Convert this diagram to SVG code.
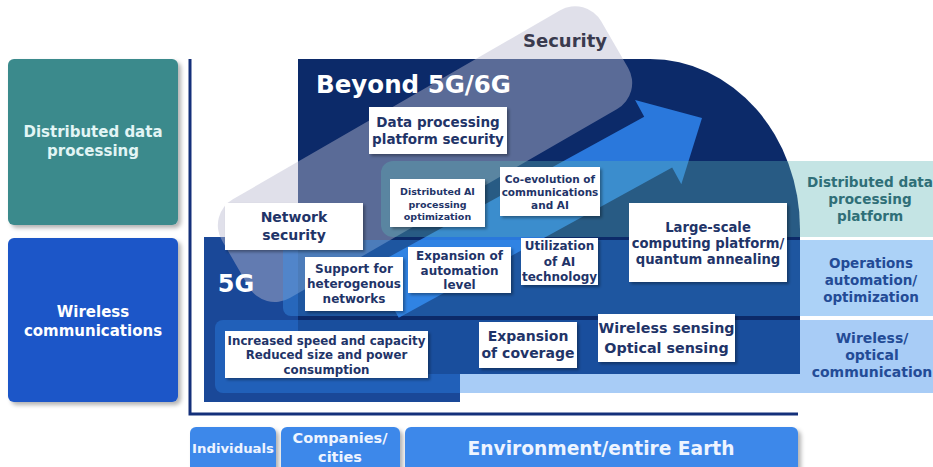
<svg xmlns="http://www.w3.org/2000/svg" width="933" height="467" viewBox="0 0 933 467">
<defs>
<filter id="sh" x="-10%" y="-10%" width="130%" height="130%"><feDropShadow dx="2" dy="2" stdDeviation="1.5" flood-color="#000" flood-opacity="0.35"/></filter>
<filter id="sh2" x="-10%" y="-10%" width="130%" height="130%"><feDropShadow dx="3" dy="3" stdDeviation="2" flood-color="#000" flood-opacity="0.3"/></filter>
<style>
text{font-family:"DejaVu Sans",Verdana,sans-serif;font-weight:bold;text-anchor:middle}
.wb{fill:#ffffff;filter:url(#sh)}
.bt{fill:#1f3468}
.wt{fill:#ffffff}
.side{filter:url(#sh2)}
</style>
</defs>
<g id="background-layers">
<rect id="tier-5g" x="204" y="237" width="256" height="165" fill="#1a4898"/>
<path id="tier-beyond" d="M298,59 H650 A150,170 0 0 1 800,229 V374 H298 Z" fill="#0c2a69"/>
</g>
<g id="connectors">
<path id="evolution-arrow" transform="translate(702,118) rotate(-28.8)" d="M0,0 L-50,-48 L-50,-29 L-362,-29 L-362,29 L-50,29 L-50,48 Z" fill="#2a78dc"/>
<path id="axes" d="M190,59 V414 H798" fill="none" stroke="#14307a" stroke-width="3"/>
</g>
<g id="security-band">
<rect x="72" y="289" width="438" height="114" rx="30" transform="rotate(-30)" fill="#babad0" fill-opacity="0.45"/>
</g>
<g id="bands">
<rect id="band-data" x="381" y="161" width="600" height="76" rx="12" fill="#5bb4b4" fill-opacity="0.36"/>
<rect id="band-ops" x="283" y="240" width="700" height="76" rx="8" fill="#3a94eb" fill-opacity="0.42"/>
<rect id="band-wireless" x="215" y="320" width="760" height="73" rx="8" fill="#2c82e8" fill-opacity="0.41"/>
</g>
<g id="labels">
<text x="413.5" y="93" class="wt" font-size="24" textLength="195" lengthAdjust="spacingAndGlyphs">Beyond 5G/6G</text>
<text x="236" y="292" class="wt" font-size="24">5G</text>
<text x="565" y="47" fill="#3a3a4e" font-size="18">Security</text>
</g>
<g id="node-data-security">
<rect class="wb" x="369" y="107" width="138" height="47"/>
<text class="bt" font-size="13.5" x="438" y="127">Data processing</text>
<text class="bt" font-size="13.5" x="438" y="144">platform security</text>
</g>
<g id="node-network-security">
<rect class="wb" x="225" y="203" width="138" height="47"/>
<text class="bt" font-size="14" x="294" y="222">Network</text>
<text class="bt" font-size="14" x="294" y="240">security</text>
</g>
<g id="node-distributed-ai">
<rect class="wb" x="390" y="179" width="95" height="48"/>
<text class="bt" font-size="9.5" x="437.5" y="195">Distributed AI</text>
<text class="bt" font-size="9.5" x="437.5" y="208">processing</text>
<text class="bt" font-size="9.5" x="437.5" y="220">optimization</text>
</g>
<g id="node-coevolution">
<rect class="wb" x="500" y="167" width="100" height="49"/>
<text class="bt" font-size="10.5" x="550" y="183">Co-evolution of</text>
<text class="bt" font-size="10.5" x="550" y="196">communications</text>
<text class="bt" font-size="10.5" x="550" y="209">and AI</text>
</g>
<g id="node-heterogenous">
<rect class="wb" x="305" y="257" width="98" height="54"/>
<text class="bt" font-size="12" x="354" y="273">Support for</text>
<text class="bt" font-size="12" x="354" y="288">heterogenous</text>
<text class="bt" font-size="12" x="354" y="303">networks</text>
</g>
<g id="node-automation">
<rect class="wb" x="408" y="247" width="103" height="46"/>
<text class="bt" font-size="12" x="459.5" y="260">Expansion of</text>
<text class="bt" font-size="12" x="459.5" y="275">automation</text>
<text class="bt" font-size="12" x="459.5" y="289">level</text>
</g>
<g id="node-ai-tech">
<rect class="wb" x="521" y="238" width="77" height="47"/>
<text class="bt" font-size="12" x="559.5" y="250">Utilization</text>
<text class="bt" font-size="12" x="559.5" y="266">of AI</text>
<text class="bt" font-size="12" x="559.5" y="281">technology</text>
</g>
<g id="node-large-scale">
<rect class="wb" x="629" y="203" width="158" height="79"/>
<text class="bt" font-size="13.2" x="708" y="232">Large-scale</text>
<text class="bt" font-size="13.2" x="708" y="248">computing platform/</text>
<text class="bt" font-size="13.2" x="708" y="264">quantum annealing</text>
</g>
<g id="node-speed">
<rect class="wb" x="225" y="331" width="203" height="47"/>
<text class="bt" font-size="11.8" x="326.5" y="345">Increased speed and capacity</text>
<text class="bt" font-size="11.8" x="326.5" y="359">Reduced size and power</text>
<text class="bt" font-size="11.8" x="326.5" y="374">consumption</text>
</g>
<g id="node-coverage">
<rect class="wb" x="479" y="322" width="98" height="46"/>
<text class="bt" font-size="14" x="528" y="341">Expansion</text>
<text class="bt" font-size="14" x="528" y="358">of coverage</text>
</g>
<g id="node-sensing">
<rect class="wb" x="598" y="314" width="137" height="48"/>
<text class="bt" font-size="14.3" x="666.5" y="333">Wireless sensing</text>
<text class="bt" font-size="14.3" x="666.5" y="353">Optical sensing</text>
</g>
<g id="label-data-platform">
<text fill="#2f6f78" font-size="13.6" x="870" y="187">Distributed data</text>
<text fill="#2f6f78" font-size="13.6" x="870" y="204">processing</text>
<text fill="#2f6f78" font-size="13.6" x="870" y="221">platform</text>
</g>
<g id="label-operations">
<text fill="#234b96" font-size="13.5" x="871" y="268">Operations</text>
<text fill="#234b96" font-size="13.5" x="871" y="285">automation/</text>
<text fill="#234b96" font-size="13.5" x="871" y="302">optimization</text>
</g>
<g id="label-wireless-optical">
<text fill="#234b96" font-size="14" x="872" y="343">Wireless/</text>
<text fill="#234b96" font-size="14" x="872" y="360">optical</text>
<text fill="#234b96" font-size="14" x="872" y="377">communication</text>
</g>
<g id="node-distributed-data">
<rect class="side" x="8" y="59" width="170" height="166" rx="6" fill="#3a8a8c"/>
<text fill="#e2f5f5" font-size="15" x="93" y="137">Distributed data</text>
<text fill="#e2f5f5" font-size="15" x="93" y="156">processing</text>
</g>
<g id="node-wireless-comm">
<rect class="side" x="8" y="238" width="170" height="164" rx="6" fill="#1a56c8"/>
<text class="wt" font-size="15" x="93" y="317">Wireless</text>
<text class="wt" font-size="15" x="93" y="336">communications</text>
</g>
<g id="node-individuals">
<rect class="side" x="190" y="427" width="86" height="50" rx="6" fill="#3c88ea"/>
<text fill="#eef4ff" font-size="13" x="233" y="453" textLength="82" lengthAdjust="spacingAndGlyphs">Individuals</text>
</g>
<g id="node-companies">
<rect class="side" x="281" y="427" width="119" height="50" rx="6" fill="#3c88ea"/>
<text fill="#eef4ff" font-size="14.5" x="340" y="443">Companies/</text>
<text fill="#eef4ff" font-size="14.5" x="340" y="462">cities</text>
</g>
<g id="node-environment">
<rect class="side" x="405" y="427" width="393" height="50" rx="6" fill="#3c88ea"/>
<text fill="#eef4ff" font-size="19" x="601" y="455" textLength="267" lengthAdjust="spacingAndGlyphs">Environment/entire Earth</text>
</g>
</svg>
